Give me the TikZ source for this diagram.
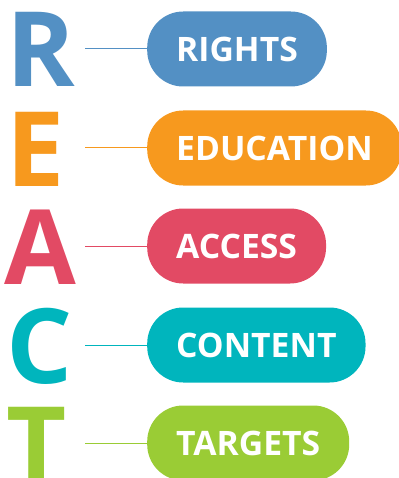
\documentclass[tikz,border=0pt]{standalone}
\usepackage{fontspec}
\setmainfont{Open Sans}
\usetikzlibrary{positioning}

\definecolor{rightsblue}{HTML}{5390C4}
\definecolor{eduorange}{HTML}{F7991E}
\definecolor{accessred}{HTML}{E24A64}
\definecolor{contentteal}{HTML}{00B5BD}
\definecolor{targetgreen}{HTML}{9ACC35}

\begin{document}
\begin{tikzpicture}[x=1pt,y=-1pt]
        \tikzstyle{letter}=[anchor=base west,inner sep=0pt,font=\fontsize{104}{104}\selectfont\bfseries]
        \tikzstyle{pill}=[rectangle,rounded corners=36pt,anchor=west,minimum height=75pt,inner xsep=29pt,inner ysep=0pt,text=white,font=\fontsize{33.7}{34}\selectfont\bfseries]
        \tikzstyle{link}=[line width=1pt]
        \useasboundingbox (0,0) rectangle (398,478);

        \node[pill,fill=rightsblue] (rights) at (147,49) {RIGHTS};
        \node[pill,fill=eduorange] (education) at (147,148) {EDUCATION};
        \node[pill,fill=accessred] (access) at (147,246) {ACCESS};
        \node[pill,fill=contentteal] (content) at (147,345) {CONTENT};
        \node[pill,fill=targetgreen] (targets) at (147,443) {TARGETS};

        \node[letter,text=rightsblue] (r) at (6,87) {R};
        \node[letter,text=eduorange] (e) at (6,186) {E};
        \node[letter,text=accessred] (a) at (4,284) {A};
        \node[letter,text=contentteal] (c) at (6,383) {C};
        \node[letter,text=targetgreen] (t) at (6,481) {T};

        \coordinate[left=62pt of rights.west] (r-end);
        \coordinate[left=62pt of education.west] (e-end);
        \coordinate[left=62pt of access.west] (a-end);
        \coordinate[left=62pt of content.west] (c-end);
        \coordinate[left=62pt of targets.west] (t-end);

        \draw[link,rightsblue] (r-end) -- (rights);
        \draw[link,eduorange] (e-end) -- (education);
        \draw[link,accessred] (a-end) -- (access);
        \draw[link,contentteal] (c-end) -- (content);
        \draw[link,targetgreen] (t-end) -- (targets);
\end{tikzpicture}
\end{document}
